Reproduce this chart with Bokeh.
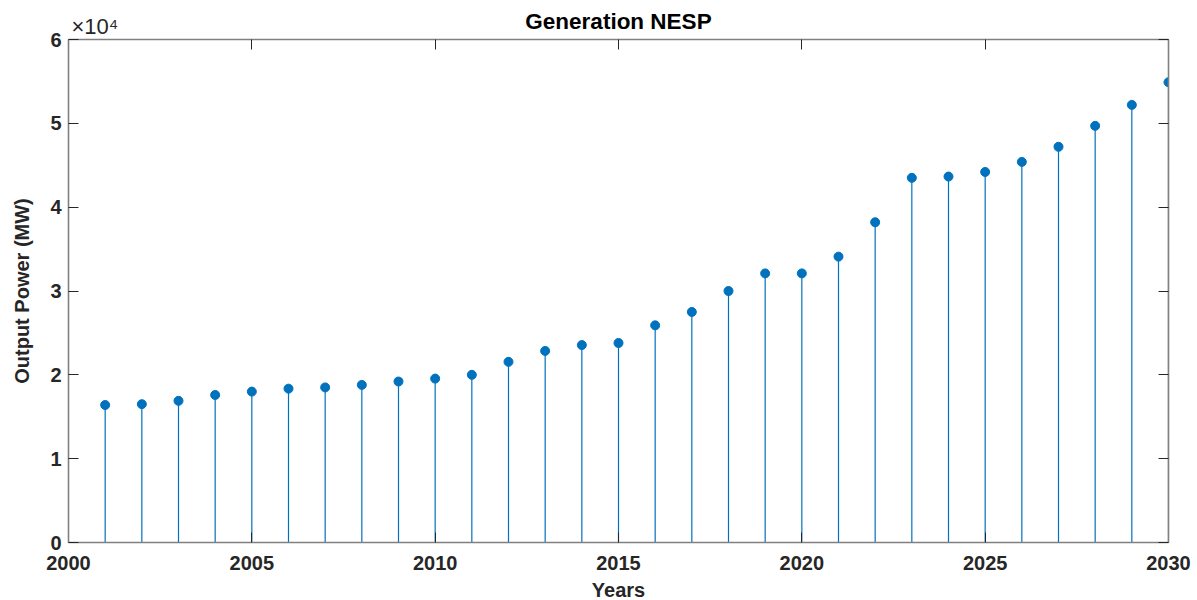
from bokeh.plotting import figure
from bokeh.models import (LinearAxis, FixedTicker, CustomJSTickFormatter,
                          Range1d, ColumnDataSource)
from bokeh.embed import file_html
from bokeh.resources import INLINE

years = list(range(2001, 2031))
output_mw = [16400, 16500, 16900, 17600, 18000, 18350, 18500, 18800, 19200, 19550,
             20000, 21550, 22850, 23550, 23800, 25900, 27500, 30000, 32100, 32100,
             34100, 38200, 43500, 43650, 44200, 45400, 47200, 49700, 52200, 54900]
x_ticks = [2000, 2005, 2010, 2015, 2020, 2025, 2030]
y_ticks = [0, 10000, 20000, 30000, 40000, 50000, 60000]
title_text = "Generation NESP"
multiplier_text = "×10⁴"

FONT = "Liberation Sans"
TXT = "#262626"
AX = "#808080"
BLUE = "#0072BD"

src = ColumnDataSource(dict(x=years, y=output_mw, y0=[0] * len(years)))

p = figure(frame_width=1100, frame_height=503,
           x_range=Range1d(2000, 2030), y_range=Range1d(0, 60000),
           output_backend="svg", toolbar_location=None, title=None,
           min_border_left=68, min_border_right=29, min_border_top=39,
           min_border_bottom=58)

p.xgrid.visible = False
p.ygrid.visible = False
p.outline_line_color = None
p.background_fill_color = "white"
p.border_fill_color = "white"

def style(ax, ticks, show_labels=True):
    ax.ticker = FixedTicker(ticks=ticks)
    ax.axis_line_color = AX
    ax.axis_line_width = 1.6
    ax.major_tick_in = 10
    ax.major_tick_out = 0
    ax.major_tick_line_color = "#262626"
    ax.major_tick_line_width = 1
    ax.minor_tick_line_color = None
    ax.major_label_text_font = FONT
    ax.major_label_text_font_style = "bold"
    ax.major_label_text_color = TXT
    ax.major_label_text_font_size = "20px"
    if not show_labels:
        ax.major_label_text_color = None
        ax.major_label_text_font_size = "1px"
        ax.major_label_standoff = 0

xa = p.xaxis[0]
style(xa, x_ticks)
xa.major_label_standoff = 13
xa.axis_label = "Years"
xa.axis_label_text_font = FONT
xa.axis_label_text_font_size = "20px"
xa.axis_label_text_font_style = "bold"
xa.axis_label_text_color = TXT
xa.axis_label_standoff = 6

ya = p.yaxis[0]
style(ya, y_ticks)
ya.major_label_standoff = 7
ya.formatter = CustomJSTickFormatter(code="return (tick/10000).toFixed(0);")
ya.axis_label = "Output Power (MW)"
ya.axis_label_text_font = FONT
ya.axis_label_text_font_size = "20px"
ya.axis_label_text_font_style = "bold"
ya.axis_label_text_color = TXT
ya.axis_label_standoff = 14

top = LinearAxis()
style(top, x_ticks, show_labels=False)
p.add_layout(top, "above")
right = LinearAxis()
style(right, y_ticks, show_labels=False)
p.add_layout(right, "right")

# outer "above" axis carrying the exponent note and the title
head = LinearAxis(ticker=FixedTicker(ticks=[2000.72]),
                  formatter=CustomJSTickFormatter(code="return %r;" % multiplier_text))
head.axis_line_color = None
head.major_tick_line_color = None
head.minor_tick_line_color = None
head.major_tick_in = 0
head.major_tick_out = 0
head.major_label_standoff = 1
head.major_label_text_font = FONT
head.major_label_text_font_size = "22px"
head.major_label_text_font_style = "normal"
head.major_label_text_color = TXT
head.axis_label = title_text
head.axis_label_text_font = FONT
head.axis_label_text_font_size = "22.5px"
head.axis_label_text_font_style = "bold"
head.axis_label_text_color = "#000000"
head.axis_label_standoff = -23
p.add_layout(head, "above")

p.segment(x0="x", y0="y0", x1="x", y1="y", source=src, line_color=BLUE, line_width=1.2)
p.scatter(x="x", y="y", source=src, size=9, fill_color=BLUE, line_color=BLUE)

open("out.html", "w").write(file_html(p, INLINE))
